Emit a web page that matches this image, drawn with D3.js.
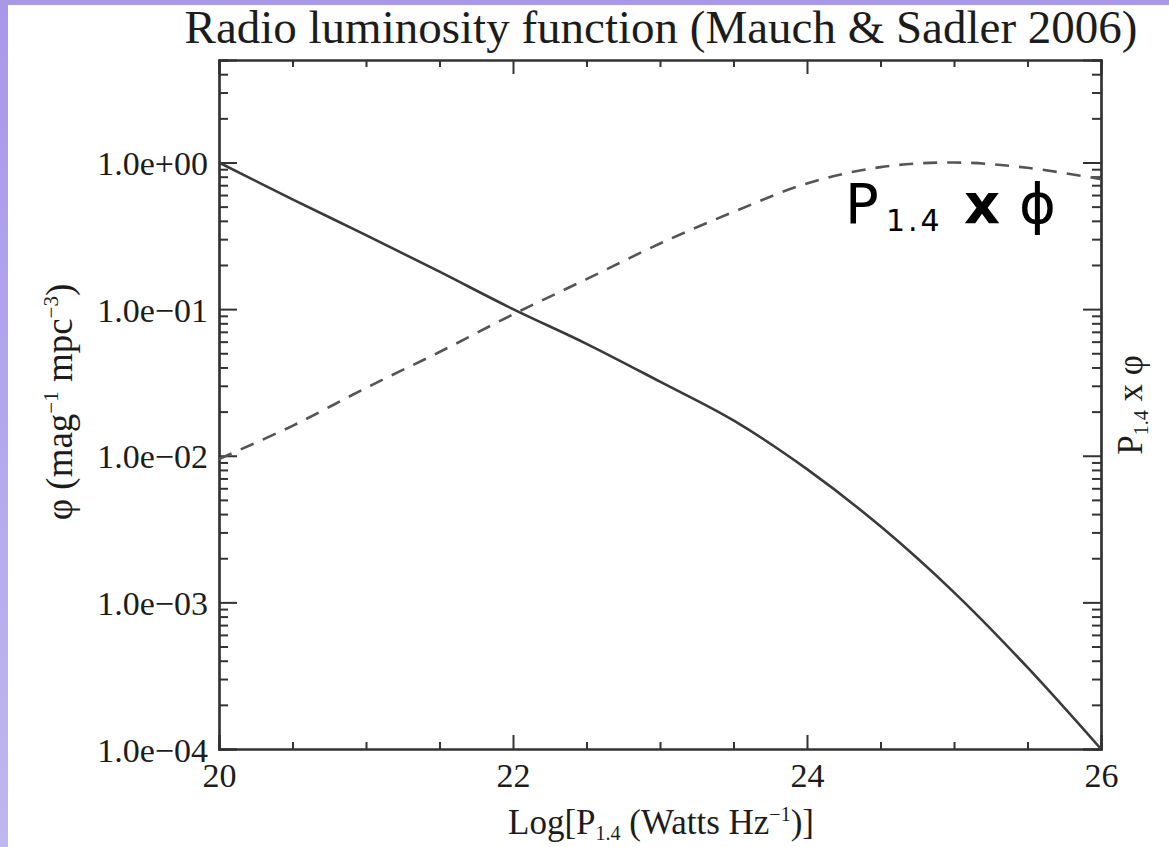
<!DOCTYPE html>
<html>
<head>
<meta charset="utf-8">
<script src="https://cdn.jsdelivr.net/npm/d3@7"></script>
<style>
    body { margin: 0; padding: 0; }
    svg { display: block; }
    .serif { font-family: "Liberation Serif", "Times New Roman", serif; fill: #1c1c1c; }
</style>
</head>
<body>
<script>
// log P (1.4 GHz)
var logP = [20, 20.5, 21, 21.5, 22, 22.5, 23, 23.5, 24, 24.5, 25, 25.5, 26];
// phi (mag^-1 mpc^-3), solid curve
var phiValues = [1.0, 0.56, 0.32, 0.18, 0.10, 0.058, 0.032, 0.0174, 0.0081, 0.0033, 0.00117, 0.00036, 0.0001];
// P x phi (normalised), dashed curve
var pPhiValues = [0.0095, 0.016, 0.029, 0.051, 0.092, 0.16, 0.28, 0.46, 0.72, 0.93, 1.0, 0.92, 0.77];

var xTickValues = [20, 22, 24, 26];
var yTickValues = [1e-4, 1e-3, 1e-2, 1e-1, 1];
var yTickLabels = ["1.0e\u221204", "1.0e\u221203", "1.0e\u221202", "1.0e\u221201", "1.0e+00"];

(function () {
    var width = 1169,
        height = 847;
    var plotLeft = 219, plotRight = 1101, plotTop = 60, plotBottom = 749;

    var svg = d3.select("body").append("svg")
        .attr("width", width)
        .attr("height", height);

    var grad = svg.append("defs").append("linearGradient")
        .attr("id", "bg")
        .attr("x1", 0).attr("y1", 0).attr("x2", 0).attr("y2", 1);
    grad.append("stop").attr("offset", "0%").attr("stop-color", "#a898ea");
    grad.append("stop").attr("offset", "100%").attr("stop-color", "#bfb7ef");

    svg.append("rect").attr("width", width).attr("height", height).attr("fill", "url(#bg)");
    svg.append("rect").attr("x", 8).attr("y", 5).attr("width", width - 8).attr("height", height - 5).attr("fill", "#fff");

    var x = d3.scaleLinear().domain([20, 26]).range([plotLeft, plotRight]);
    var y = d3.scaleLog().domain([1e-4, 5]).range([plotBottom, plotTop]);

    var minorY = y.ticks().filter(function (d) {
        return yTickValues.indexOf(d) < 0 && d <= 5;
    });
    var minorX = d3.range(20, 26.01, 0.5).filter(function (d) {
        return xTickValues.indexOf(d) < 0;
    });

    function styleAxis(g) {
        g.selectAll(".domain").attr("stroke", "#333").attr("stroke-width", 2.2);
        g.selectAll(".tick line").attr("stroke", "#333").attr("stroke-width", 2);
        g.selectAll(".tick text")
            .attr("class", "serif")
            .style("font-size", "34px")
            .attr("fill", "#1c1c1c");
    }

    // left axis
    svg.append("g").attr("transform", "translate(" + plotLeft + ",0)")
        .call(d3.axisLeft(y).tickValues(minorY).tickSize(-9).tickFormat(""))
        .call(styleAxis);
    svg.append("g").attr("transform", "translate(" + plotLeft + ",0)")
        .call(d3.axisLeft(y).tickValues(yTickValues).tickSize(-18).tickPadding(11)
            .tickFormat(function (d, i) { return yTickLabels[i]; }))
        .call(styleAxis)
        .selectAll(".tick text").attr("dy", "0.36em");

    // right axis (mirror, no labels)
    svg.append("g").attr("transform", "translate(" + plotRight + ",0)")
        .call(d3.axisRight(y).tickValues(minorY).tickSize(-9).tickFormat(""))
        .call(styleAxis);
    svg.append("g").attr("transform", "translate(" + plotRight + ",0)")
        .call(d3.axisRight(y).tickValues(yTickValues).tickSize(-18).tickFormat(""))
        .call(styleAxis);

    // bottom axis
    svg.append("g").attr("transform", "translate(0," + plotBottom + ")")
        .call(d3.axisBottom(x).tickValues(minorX).tickSize(-7).tickFormat(""))
        .call(styleAxis);
    svg.append("g").attr("transform", "translate(0," + plotBottom + ")")
        .call(d3.axisBottom(x).tickValues(xTickValues).tickSize(-14).tickPadding(14).tickFormat(d3.format("d")))
        .call(styleAxis)
        .selectAll(".tick text").attr("dy", "0.71em");

    // top axis
    svg.append("g").attr("transform", "translate(0," + plotTop + ")")
        .call(d3.axisTop(x).tickValues(minorX).tickSize(-7).tickFormat(""))
        .call(styleAxis);
    svg.append("g").attr("transform", "translate(0," + plotTop + ")")
        .call(d3.axisTop(x).tickValues(xTickValues).tickSize(-14).tickFormat(""))
        .call(styleAxis);

    // curves
    var line = function (values) {
        return d3.line()
            .x(function (d, i) { return x(logP[i]); })
            .y(function (d) { return y(d); })
            .curve(d3.curveCatmullRom.alpha(0.5))(values);
    };

    svg.append("path")
        .attr("d", line(phiValues))
        .attr("fill", "none")
        .attr("stroke", "#3a3a3a")
        .attr("stroke-width", 2.6);

    svg.append("path")
        .attr("d", line(pPhiValues))
        .attr("fill", "none")
        .attr("stroke", "#555")
        .attr("stroke-width", 2.6)
        .attr("stroke-dasharray", "14,10");

    // title
    svg.append("text")
        .attr("class", "serif")
        .attr("x", 661).attr("y", 43)
        .attr("text-anchor", "middle")
        .style("font-size", "47px")
        .text("Radio luminosity function (Mauch & Sadler 2006)");

    // x label
    var xl = svg.append("text")
        .attr("class", "serif")
        .attr("x", 661).attr("y", 834)
        .attr("text-anchor", "middle")
        .style("font-size", "35px");
    xl.append("tspan").text("Log[P");
    xl.append("tspan").attr("dy", 6).style("font-size", "20px").text("1.4");
    xl.append("tspan").attr("dy", -6).text(" (Watts Hz");
    xl.append("tspan").attr("dy", -13).style("font-size", "20px").text("\u22121");
    xl.append("tspan").attr("dy", 13).text(")]");

    // y label
    var yl = svg.append("text")
        .attr("class", "serif")
        .attr("transform", "translate(72,402) rotate(-90)")
        .attr("text-anchor", "middle")
        .style("font-size", "37px");
    yl.append("tspan").text("\u03c6 (mag");
    yl.append("tspan").attr("dy", -14).style("font-size", "21px").text("\u22121");
    yl.append("tspan").attr("dy", 14).text(" mpc");
    yl.append("tspan").attr("dy", -14).style("font-size", "21px").text("\u22123");
    yl.append("tspan").attr("dy", 14).text(")");

    // right label
    var rl = svg.append("text")
        .attr("class", "serif")
        .attr("transform", "translate(1142,405) rotate(-90)")
        .attr("text-anchor", "middle")
        .style("font-size", "35px");
    rl.append("tspan").text("P");
    rl.append("tspan").attr("dy", 6).style("font-size", "20px").text("1.4");
    rl.append("tspan").attr("dy", -6).text(" x \u03c6");

    // annotation
    var an = svg.append("text")
        .attr("y", 223)
        .style("font-family", "'DejaVu Sans', sans-serif")
        .style("font-size", "56px")
        .attr("fill", "#000");
    an.append("tspan").attr("x", 845).text("P");
    an.append("tspan").attr("x", 886).attr("dy", 8)
        .style("font-size", "30px").style("letter-spacing", "3px").text("1.4");
    an.append("tspan").attr("x", 964).attr("dy", -8).style("font-weight", "bold").text("x");
    an.append("tspan").attr("x", 1019).text("\u03d5");
}());
</script>
</body>
</html>
